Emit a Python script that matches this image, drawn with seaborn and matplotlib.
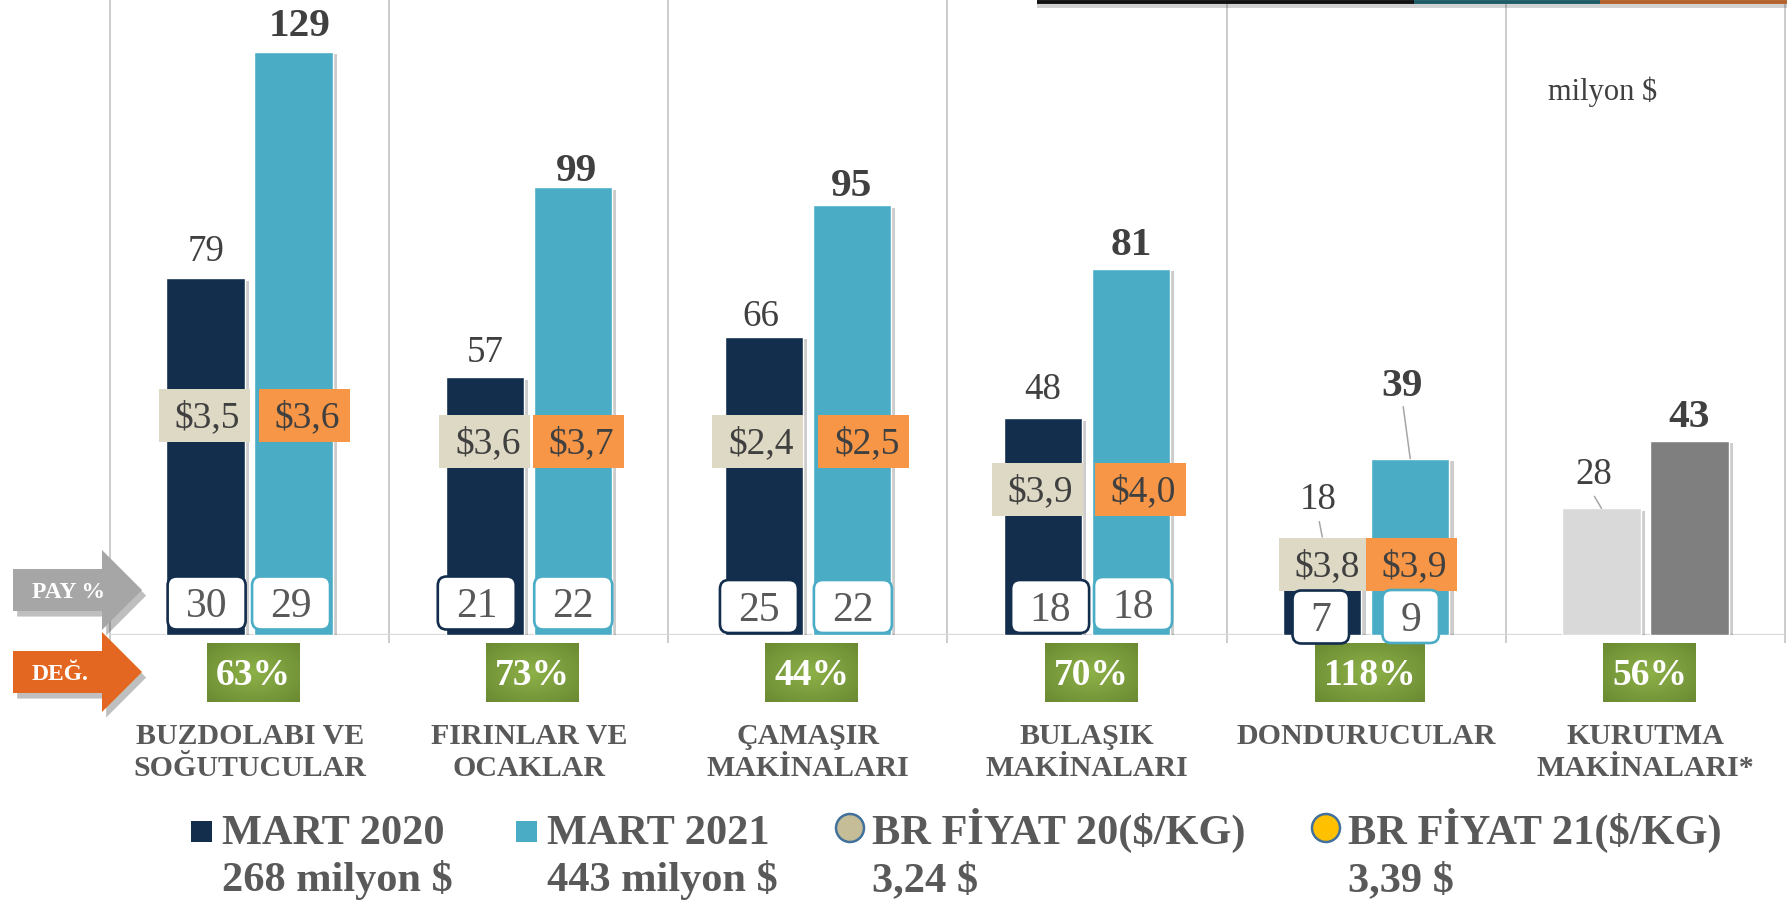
import numpy as np
import pandas as pd
import matplotlib
matplotlib.use("Agg")
import matplotlib.pyplot as plt
import seaborn as sns
from matplotlib.transforms import IdentityTransform
from matplotlib.patches import Rectangle, FancyBboxPatch, Polygon, Ellipse
from matplotlib.lines import Line2D
import matplotlib.patheffects as pe

# ---------------- data ----------------
kategoriler = ["BUZDOLABI VE\nSOĞUTUCULAR", "FIRINLAR VE\nOCAKLAR", "ÇAMAŞIR\nMAKİNALARI",
               "BULAŞIK\nMAKİNALARI", "DONDURUCULAR", "KURUTMA\nMAKİNALARI*"]
yillar = ["MART 2020", "MART 2021"]
deger_2020 = [79, 57, 66, 48, 18, 28]
deger_2021 = [129, 99, 95, 81, 39, 43]
pay_2020 = [30, 21, 25, 18, 7]
pay_2021 = [29, 22, 22, 18, 9]
fiyat_2020 = [3.5, 3.6, 2.4, 3.9, 3.8]
fiyat_2021 = [3.6, 3.7, 2.5, 4.0, 3.9]
degisim = [63, 73, 44, 70, 118, 56]
toplam = ["268 milyon $", "443 milyon $"]
ort_fiyat = ["3,24 $", "3,39 $"]
legend_labels = ["MART 2020", "MART 2021", "BR FİYAT 20($/KG)", "BR FİYAT 21($/KG)"]

# ---------------- layout (pixels) ----------------
W, H = 1787, 902
lbl_off = [[29.5, 28, 23, 31.5, 57, 37], [30, 20, 23, 27.5, 77, 28]]
lbl_dx = [[0, 0, -3, 0, -4, -8], [6, 4, 0, 0, -8, 0]]
price_y = [415, 441, 441, 489, 564]
price_dx = [[-1, 0, -6, -6, 2], [11, 6, 12, 9, 1]]
share_y = [[603, 603, 606.5, 606.5, 617], [603, 603, 606.5, 603.5, 616.5]]
share_dx = [[1, -8, -5, 7, -1.5], [-2.5, 0.5, 1, 2, 0.5]]

navy = "#132e4d"
cyan = "#4bacc6"
beige = "#ddd9c4"
orange = "#f79646"
txt_dark = "#404040"
txt_grey = "#595959"

sns.set_theme(style="white")
plt.rcParams["font.family"] = ["Liberation Serif", "DejaVu Serif"]

fig = plt.figure(figsize=(W / 100, H / 100), dpi=100)
fig.patch.set_facecolor("white")
ax = fig.add_axes([110 / W, 1 - 635 / H, 1675 / W, 635 / H])
ax.set_facecolor("none")

df = pd.DataFrame({
    "kategori": kategoriler * 2,
    "deger": deger_2020 + deger_2021,
    "yil": [yillar[0]] * 6 + [yillar[1]] * 6,
})
sns.barplot(data=df, x="kategori", y="deger", hue="yil", order=kategoriler,
            hue_order=yillar, palette=[navy, cyan], width=0.63, gap=0.11,
            saturation=1, errorbar=None, legend=False, ax=ax, zorder=3)

px_per_unit = 4.522
ax.set_ylim(0, 635 / px_per_unit)
ax.set_xlim(-0.5, 5.5)
for sp in ax.spines.values():
    sp.set_visible(False)
ax.set_yticks([])
ax.set_xlabel("")
ax.set_ylabel("")

# last category greyed
ax.containers[0][5].set_facecolor("#d9d9d9")
ax.containers[1][5].set_facecolor("#7f7f7f")
for p in ax.patches:
    p.set_path_effects([pe.SimplePatchShadow(offset=(3, -2), shadow_rgbFace="black", alpha=0.2),
                        pe.Normal()])

# grid
ax.vlines(np.arange(-0.5, 6, 1), ymin=-8 / px_per_unit, ymax=635 / px_per_unit,
          colors="#c8c8c8", lw=1.3, clip_on=False, zorder=1)
ax.axhline(0, color="#d9d9d9", lw=1.6, zorder=2)

ax.set_xticks(range(6))
ax.set_xticklabels(kategoriler, fontsize=21.5, fontweight="bold", color=txt_grey, linespacing=1.24)
ax.tick_params(axis="x", length=0, pad=63)

ID = IdentityTransform()


def em(pt):
    return pt * 100 / 72


def ctext(x, ytop, s, pt, **kw):
    """text whose digit-centre sits at (x, ytop) in top-origin pixels"""
    return fig.text(x, H - (ytop + 0.338 * em(pt)), s, transform=ID, ha="center",
                    va="baseline", fontsize=pt, **kw)


vals = [deger_2020, deger_2021]
bar_info = []
for s, cont in enumerate(ax.containers):
    row = []
    for i, p in enumerate(cont):
        cx = p.get_x() + p.get_width() / 2
        h = p.get_height()
        dx_disp = ax.transData.transform((cx, h))
        row.append((dx_disp[0], H - dx_disp[1]))
        size = 26.6 if s == 0 else 29.8
        ax.annotate(str(vals[s][i]), xy=(cx, h),
                    xytext=(lbl_dx[s][i] * 0.72, (lbl_off[s][i] - 0.338 * em(size)) * 0.72),
                    textcoords="offset points", ha="center", va="baseline",
                    fontsize=size, fontweight="normal" if s == 0 else "bold",
                    color=txt_dark, annotation_clip=False, zorder=6)
    bar_info.append(row)

# leader lines
for s, i, target in [(0, 4, "box"), (1, 4, "bar"), (0, 5, "bar")]:
    bx, btop = bar_info[s][i]
    ly = btop - lbl_off[s][i]
    lx = bx + lbl_dx[s][i]
    end_y = price_y[i] - 27 if target == "box" else btop
    fig.add_artist(Line2D([lx + 1, bx], [H - (ly + 25), H - end_y], transform=ID,
                          color="#a6a6a6", lw=1.1, zorder=5))

# price boxes
prices = [fiyat_2020, fiyat_2021]
for s in range(2):
    for i in range(5):
        bx, _ = bar_info[s][i]
        cx = bx + price_dx[s][i]
        yc = price_y[i]
        fig.add_artist(Rectangle((cx - 45.5, H - yc - 26.5), 91, 53, transform=ID,
                                 fc=beige if s == 0 else orange, ec="none", zorder=4))
        ctext(cx + 3, yc, "$" + f"{prices[s][i]:.1f}".replace(".", ","), 27,
              color=txt_dark, zorder=5)

# share boxes
shares = [pay_2020, pay_2021]
for s in range(2):
    for i in range(5):
        bx, _ = bar_info[s][i]
        cx = bx + share_dx[s][i]
        yc = share_y[s][i]
        t = str(shares[s][i])
        w = 21.5 * len(t) + 35
        fig.add_artist(FancyBboxPatch((cx - w / 2, H - yc - 26.5), w, 53,
                                      boxstyle="round,pad=0,rounding_size=9", transform=ID,
                                      fc="white", ec=navy if s == 0 else cyan, lw=1.9, zorder=4))
        ctext(cx, yc, t, 30, color=txt_grey, zorder=5)

# change boxes (gradient green)
renderer = fig.canvas.get_renderer()
for i, d in enumerate(degisim):
    cx = ax.transData.transform((i, 0))[0] + 4
    t = ctext(cx, 672, f"{d}%", 27, color="white", fontweight="bold", zorder=6)
    bb = t.get_window_extent(renderer)
    w = int(round(bb.width + 18))
    h = 59
    yy, xx = np.mgrid[0:h, 0:w]
    r = np.sqrt(((xx - (w - 1) / 2) / (w / 2)) ** 2 + ((yy - (h - 1) / 2) / (h / 2)) ** 2) / np.sqrt(2)
    r = np.clip(r, 0, 1)[..., None]
    c0 = np.array([141, 177, 72]) / 255
    c1 = np.array([106, 137, 50]) / 255
    img = c0 * (1 - r) + c1 * r
    fig.figimage(img, xo=int(round(cx - w / 2)), yo=int(round(H - 702)), origin="lower", zorder=2)

# left arrows
def arrow(ytop_c, color, label):
    pts = [(13, ytop_c - 21), (102, ytop_c - 21), (102, ytop_c - 40), (142, ytop_c),
           (102, ytop_c + 40), (102, ytop_c + 21), (13, ytop_c + 21)]
    poly = Polygon([(x, H - y) for x, y in pts], closed=True, transform=ID, fc=color, ec="none",
                   zorder=3)
    poly.set_path_effects([pe.SimplePatchShadow(offset=(3, -4), shadow_rgbFace="black", alpha=0.25),
                           pe.Normal()])
    fig.add_artist(poly)
    fig.text(32, H - (ytop_c + 0.338 * em(17)), label, transform=ID, ha="left", va="baseline",
             fontsize=17, fontweight="bold", color="white", zorder=4)


arrow(590, "#a6a6a6", "PAY %")
arrow(672, "#e36720", "DEĞ.")

# legend
leg_x = [222, 547, 872, 1348]
for k in range(2):
    fig.add_artist(Rectangle((leg_x[k] - 31, H - 842), 21, 21, transform=ID,
                             fc=[navy, cyan][k], ec="none"))
for k, fc in [(2, "#c4bd97"), (3, "#ffc000")]:
    fig.add_artist(Ellipse((leg_x[k] - 22, H - 828), 28, 28, transform=ID, fc=fc,
                           ec="#41719c", lw=1.8))
second = [toplam[0], toplam[1], ort_fiyat[0], ort_fiyat[1]]
for k in range(4):
    fig.text(leg_x[k], H - 844, legend_labels[k], transform=ID, ha="left", va="baseline",
             fontsize=30.5, fontweight="bold", color=txt_grey)
    fig.text(leg_x[k], H - 891, second[k], transform=ID, ha="left", va="baseline",
             fontsize=30.5, fontweight="bold", color=txt_grey)

# unit note
fig.text(1548, H - 100, "milyon $", transform=ID, ha="left", va="baseline", fontsize=22,
         color=txt_dark)

# cut-off header strip at the top right
for x0, x1, c in [(1037, 1414, "#111111"), (1414, 1600, "#1d5c66"), (1600, 1787, "#b3622a")]:
    ln = Line2D([x0, x1], [H - 1.8, H - 1.8], transform=ID, color=c, lw=2.8, zorder=5,
                solid_capstyle="butt")
    ln.set_path_effects([pe.SimpleLineShadow(offset=(0, -3), alpha=0.2), pe.Normal()])
    fig.add_artist(ln)

fig.savefig("out.png", dpi=100)
